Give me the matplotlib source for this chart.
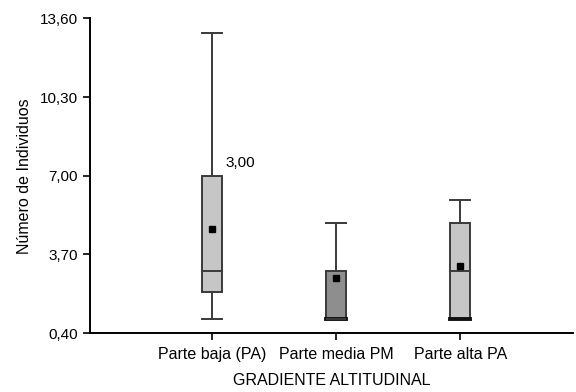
import matplotlib
matplotlib.use("Agg")
import matplotlib.pyplot as plt

plt.rcParams['font.family'] = ['Liberation Sans', 'DejaVu Sans']

categories = ["Parte baja (PA)", "Parte media PM", "Parte alta PA"]
mins = [1.0, 1.0, 1.0]
q1 = [2.1, 1.0, 1.0]
medians = [3.0, 1.0, 3.0]
q3 = [7.0, 3.0, 5.0]
maxs = [13.0, 5.0, 6.0]
means = [4.75, 2.7, 3.2]
box_colors = ["#c6c6c6", "#8e8e8e", "#c6c6c6"]
yticks = [0.40, 3.70, 7.00, 10.30, 13.60]

stats = []
for i in range(len(categories)):
    stats.append({"whislo": mins[i], "q1": q1[i], "med": medians[i],
                  "q3": q3[i], "whishi": maxs[i], "mean": means[i],
                  "fliers": [], "label": categories[i]})

fig = plt.figure(figsize=(5.76, 3.92), dpi=100)
ax = fig.add_axes([0.156, 0.1505, 0.839, 0.8025])

edge = "#3a3a3a"
bw = 0.165
bp = ax.bxp(stats, positions=[1, 2, 3], widths=bw, capwidths=bw,
            patch_artist=True, showmeans=True, showfliers=False,
            boxprops=dict(edgecolor=edge, linewidth=1.4),
            whiskerprops=dict(color=edge, linewidth=1.4),
            capprops=dict(color=edge, linewidth=1.4),
            medianprops=dict(color=edge, linewidth=1.4),
            meanprops=dict(marker="s", markerfacecolor="black",
                           markeredgecolor="black", markersize=4))
for patch, c in zip(bp["boxes"], box_colors):
    patch.set_facecolor(c)

# lower cap sitting on the box bottom looks heavier
for i in range(len(categories)):
    if mins[i] == q1[i]:
        bp["caps"][2 * i].set_linewidth(2.8)
        bp["caps"][2 * i].set_color("#111111")

ax.text(1.105, 7.55, "3,00", fontsize=11, va="center", ha="left")

ax.set_xlim(0.016, 3.91)
ax.set_ylim(0.40, 13.60)
ax.set_yticks(yticks)
ax.set_yticklabels([("%.2f" % v).replace(".", ",") for v in yticks])
ax.set_xticks([1, 2, 3])
ax.set_xticklabels(categories)
ax.tick_params(axis="both", direction="out", length=5, width=1.2,
               labelsize=11, color="black")
ax.tick_params(axis="x", pad=5, labelsize=11.5)

for s in ["top", "right"]:
    ax.spines[s].set_visible(False)
for s in ["left", "bottom"]:
    ax.spines[s].set_linewidth(1.4)

ax.set_ylabel("Número de Individuos", fontsize=11.5, labelpad=6)
ax.set_xlabel("GRADIENTE ALTITUDINAL", fontsize=11.5, labelpad=8)

fig.savefig("out.png", dpi=100)
